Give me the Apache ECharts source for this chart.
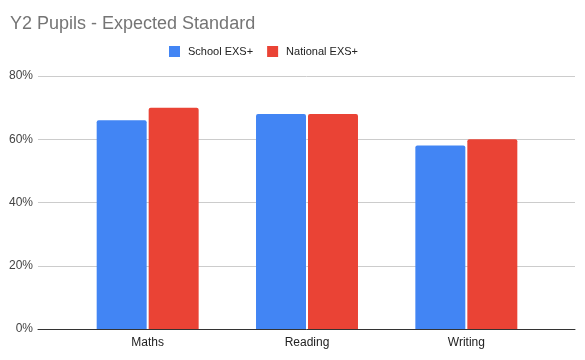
<!DOCTYPE html>
<html><head><meta charset="utf-8">
<script src="https://cdn.jsdelivr.net/npm/echarts@6/dist/echarts.min.js"></script>
<style>html,body{margin:0;padding:0;background:#fff}#c{width:585px;height:360px}</style>
</head><body><div id="c"></div>
<script>
const categories = ['Maths', 'Reading', 'Writing'];
const schoolEXS = [66, 68, 58];
const nationalEXS = [70, 68, 60];
const seriesNames = ['School EXS+', 'National EXS+'];
const yTicks = {min: 0, max: 80, interval: 20};

const FONT = '"Liberation Sans", Arial, sans-serif';
const chart = echarts.init(document.getElementById('c'), null, {renderer: 'canvas'});
chart.setOption({
  animation: false,
  textStyle: {fontFamily: FONT},
  title: {
    text: 'Y2 Pupils - Expected Standard',
    left: 5, top: 10,
    textStyle: {fontSize: 18, fontWeight: 'normal', color: '#757575', fontFamily: FONT}
  },
  legend: {
    data: seriesNames,
    left: 164, top: 41,
    itemWidth: 11, itemHeight: 11, itemGap: 14,
    icon: 'rect',
    textStyle: {fontSize: 11, color: '#222', fontFamily: FONT, padding: [0, 0, 0, 3]}
  },
  grid: [
    {left: 38, right: 10, top: 76, bottom: 31},
    {left: 68, right: 39, top: 76, bottom: 31}
  ],
  xAxis: [
    {
      gridIndex: 0, type: 'category', data: [''],
      axisTick: {show: false}, axisLabel: {show: false},
      axisLine: {lineStyle: {color: '#333', width: 1}}, z: 5
    },
    {
      gridIndex: 1, type: 'category', data: categories,
      axisTick: {show: false},
      axisLine: {show: false},
      axisLabel: {fontSize: 12, color: '#222', margin: 8, fontFamily: FONT}
    }
  ],
  yAxis: [
    {
      gridIndex: 0, type: 'value', min: yTicks.min, max: yTicks.max, interval: yTicks.interval,
      axisLabel: {formatter: '{value}%', fontSize: 12, color: '#444', margin: 5, fontFamily: FONT},
      splitLine: {lineStyle: {color: '#ccc'}},
      axisLine: {show: false}, axisTick: {show: false}
    },
    {
      gridIndex: 1, type: 'value', min: yTicks.min, max: yTicks.max, interval: yTicks.interval,
      show: false
    }
  ],
  series: [
    {name: seriesNames[0], type: 'bar', xAxisIndex: 1, yAxisIndex: 1, data: schoolEXS,
     itemStyle: {color: '#4285F4', borderRadius: [2,2,0,0]}, barGap: '4%', barCategoryGap: '36%'},
    {name: seriesNames[1], type: 'bar', xAxisIndex: 1, yAxisIndex: 1, data: nationalEXS,
     itemStyle: {color: '#EA4335', borderRadius: [2,2,0,0]}}
  ]
});
</script></body></html>
